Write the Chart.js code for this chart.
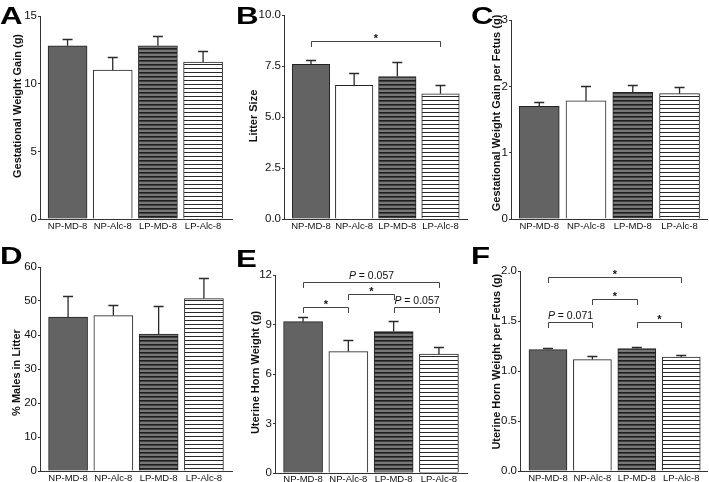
<!DOCTYPE html>
<html>
<head>
<meta charset="utf-8">
<script src="https://cdn.jsdelivr.net/npm/chart.js@4.4.0/dist/chart.umd.min.js"></script>
<style>
  body { margin: 0; background: #fff; }
  #fig { position: relative; width: 709px; height: 482px; background: #fff; }
  #fig canvas { position: absolute; }
</style>
</head>
<body>
<div id="fig">
  <canvas id="pA" style="left:0;top:0" width="236" height="240"></canvas>
  <canvas id="pB" style="left:236px;top:0" width="235" height="240"></canvas>
  <canvas id="pC" style="left:471px;top:0" width="238" height="240"></canvas>
  <canvas id="pD" style="left:0;top:240px" width="236" height="242"></canvas>
  <canvas id="pE" style="left:236px;top:240px" width="235" height="242"></canvas>
  <canvas id="pF" style="left:471px;top:240px" width="238" height="242"></canvas>
</div>
<script>
// groups on the x axis
const groups = ['NP-MD-8', 'NP-Alc-8', 'LP-MD-8', 'LP-Alc-8'];

// A - gestational weight gain
const gainMean = [12.8, 11.0, 12.8, 11.6];
const gainSem = [0.5, 1.0, 0.7, 0.8];
const gainTicks = [0, 5, 10, 15];

// B - litter size
const litterMean = [7.58, 6.55, 6.98, 6.14];
const litterSem = [0.2, 0.62, 0.7, 0.41];
const litterTicks = [0, 2.5, 5, 7.5, 10];
const litterSig = [[0, 3, 8.74, '*']];

// C - weight gain per fetus
const gainFetusMean = [1.70, 1.78, 1.91, 1.89];
const gainFetusSem = [0.07, 0.22, 0.11, 0.10];
const gainFetusTicks = [0, 1, 2, 3];

// D - % males
const malesMean = [45.3, 45.7, 40.3, 50.7];
const malesSem = [6.3, 3.2, 8.3, 6.0];
const malesTicks = [0, 10, 20, 30, 40, 50, 60];

// E - uterine horn weight
const hornMean = [9.17, 7.36, 8.57, 7.2];
const hornSem = [0.27, 0.71, 0.67, 0.46];
const hornTicks = [0, 3, 6, 9, 12];
const hornSig = [[0, 3, 11.59, 'P = 0.057'], [1, 2, 10.83, '*'], [0, 1, 10.04, '*'], [2, 3, 10.04, 'P = 0.057']];

// F - uterine horn weight per fetus
const hornFetusMean = [1.214, 1.114, 1.224, 1.14];
const hornFetusSem = [0.02, 0.04, 0.02, 0.024];
const hornFetusTicks = [0, 0.5, 1, 1.5, 2];
const hornFetusSig = [[0, 3, 1.94, '*'], [1, 2, 1.724, '*'], [0, 1, 1.49, 'P = 0.071'], [2, 3, 1.49, '*']];

const FONT = "'Liberation Sans', Arial, Helvetica, sans-serif";

// striped fills
function stripes(bg, line, period, lw) {
  const c = document.createElement('canvas');
  c.width = 4; c.height = period;
  const g = c.getContext('2d');
  g.fillStyle = bg; g.fillRect(0, 0, 4, period);
  g.fillStyle = line; g.fillRect(0, 0, 4, lw);
  return g.createPattern(c, 'repeat');
}
const fills = ['#636363', '#ffffff', stripes('#777777', '#1e1e1e', 4, 1.6), stripes('#ffffff', '#2a2a2a', 4, 1)];

const panels = [
  { id: 'pA', letter: 'A', title: 'Gestational Weight Gain (g)', mean: gainMean, sem: gainSem, ticks: gainTicks, dec: 0,
    area: { l: 40, t: 16, r: 232, b: 219 }, xr: [-0.61, 3.64], barW: 39, titlePos: [18, 106], letterY: 23.5, xPad: 2 },
  { id: 'pB', letter: 'B', title: 'Litter Size', mean: litterMean, sem: litterSem, ticks: litterTicks, dec: 1, sig: litterSig,
    area: { l: 48, t: 15, r: 231, b: 219 }, xr: [-0.625, 3.614], barW: 37.5, titlePos: [18, 116], letterY: 23.5, xPad: 2 },
  { id: 'pC', letter: 'C', title: 'Gestational Weight Gain per Fetus (g)', mean: gainFetusMean, sem: gainFetusSem, ticks: gainFetusTicks, dec: 0,
    area: { l: 40, t: 20, r: 236, b: 219 }, xr: [-0.604, 3.587], barW: 40, titlePos: [25.5, 113], letterY: 23.5, xPad: 2 },
  { id: 'pD', letter: 'D', title: '% Males in Litter', mean: malesMean, sem: malesSem, ticks: malesTicks, dec: 0,
    area: { l: 40, t: 27, r: 232, b: 231 }, xr: [-0.62, 3.62], barW: 39, titlePos: [17, 132.5], letterY: 23.5, xPad: 2 },
  { id: 'pE', letter: 'E', title: 'Uterine Horn Weight (g)', mean: hornMean, sem: hornSem, ticks: hornTicks, dec: 0, sig: hornSig,
    area: { l: 39, t: 35, r: 231, b: 233 }, xr: [-0.62, 3.62], barW: 39, titlePos: [19.7, 132.5], letterY: 27, xPad: 1 },
  { id: 'pF', letter: 'F', title: 'Uterine Horn Weight per Fetus (g)', mean: hornFetusMean, sem: hornFetusSem, ticks: hornFetusTicks, dec: 1, sig: hornFetusSig,
    area: { l: 49, t: 31, r: 236, b: 231 }, xr: [-0.63, 3.58], barW: 38, titlePos: [26, 121.7], letterY: 23.5, xPad: 2 }
];

// error bars, brackets, axis title and panel letter
const extras = {
  id: 'extras',
  afterDraw(chart) {
    const p = chart.options.plugins.extras.panel;
    const ctx = chart.ctx;
    const xs = chart.scales.x, ys = chart.scales.y;
    ctx.save();

    // error bars (upper only)
    ctx.strokeStyle = '#2a2a2a';
    ctx.lineWidth = 1.3;
    chart.getDatasetMeta(0).data.forEach((bar, i) => {
      const yt = Math.round(ys.getPixelForValue(p.mean[i] + p.sem[i])) + 0.5;
      ctx.beginPath();
      ctx.moveTo(bar.x, bar.y);
      ctx.lineTo(bar.x, yt);
      ctx.moveTo(bar.x - 5, yt);
      ctx.lineTo(bar.x + 5, yt);
      ctx.stroke();
    });

    // significance brackets
    (p.sig || []).forEach(([a, b, level, label]) => {
      const x1 = Math.round(xs.getPixelForValue(a)) + 0.5;
      const x2 = Math.round(xs.getPixelForValue(b)) + 0.5;
      const y = Math.round(ys.getPixelForValue(level)) + 0.5;
      ctx.strokeStyle = '#444';
      ctx.lineWidth = 1;
      ctx.beginPath();
      ctx.moveTo(x1, y + 5.5);
      ctx.lineTo(x1, y);
      ctx.lineTo(x2, y);
      ctx.lineTo(x2, y + 5.5);
      ctx.stroke();
      const cx = (x1 + x2) / 2;
      ctx.fillStyle = '#111';
      ctx.textBaseline = 'alphabetic';
      if (label === '*') {
        ctx.font = 'bold 11px ' + FONT;
        ctx.textAlign = 'center';
        ctx.fillText('*', cx, y + 0.5);
      } else {
        const rest = label.slice(1);
        ctx.font = 'italic 10.5px ' + FONT;
        const w1 = ctx.measureText('P').width;
        ctx.font = '10.5px ' + FONT;
        const w2 = ctx.measureText(rest).width;
        const x0 = cx - (w1 + w2) / 2;
        ctx.textAlign = 'left';
        ctx.font = 'italic 10.5px ' + FONT;
        ctx.fillText('P', x0, y - 4);
        ctx.font = '10.5px ' + FONT;
        ctx.fillText(rest, x0 + w1, y - 4);
      }
    });

    // y axis title
    ctx.save();
    ctx.translate(p.titlePos[0], p.titlePos[1]);
    ctx.rotate(-Math.PI / 2);
    ctx.font = 'bold 11px ' + FONT;
    ctx.fillStyle = '#111';
    ctx.textAlign = 'center';
    ctx.textBaseline = 'middle';
    ctx.fillText(p.title, 0, 0);
    ctx.restore();

    // panel letter
    ctx.save();
    ctx.translate(0, p.letterY);
    ctx.scale(1.3, 1);
    ctx.font = 'bold 24px ' + FONT;
    ctx.fillStyle = '#000';
    ctx.textAlign = 'left';
    ctx.textBaseline = 'alphabetic';
    ctx.fillText(p.letter, 0, 0);
    ctx.restore();

    ctx.restore();
  }
};

panels.forEach(p => {
  const canvas = document.getElementById(p.id);
  const W = canvas.width, H = canvas.height;
  new Chart(canvas, {
    type: 'bar',
    data: {
      datasets: [{
        data: p.mean.map((v, i) => ({ x: i, y: v })),
        backgroundColor: fills,
        borderColor: '#222',
        borderWidth: 1,
        barThickness: p.barW
      }]
    },
    options: {
      responsive: false,
      animation: false,
      layout: { padding: { left: 0, top: p.area.t, right: W - p.area.r, bottom: 0 } },
      plugins: { legend: { display: false }, tooltip: { enabled: false }, extras: { panel: p } },
      scales: {
        x: {
          type: 'linear',
          offset: false,
          min: p.xr[0],
          max: p.xr[1],
          afterBuildTicks: s => { s.ticks = groups.map((g, i) => ({ value: i })); },
          afterFit: s => { s.height = H - p.area.b; },
          ticks: { callback: v => groups[v], autoSkip: false, maxRotation: 0, padding: p.xPad, color: '#111', font: { family: FONT, size: 9.5 } },
          grid: { display: true, offset: false, drawOnChartArea: false, drawTicks: false },
          border: { color: '#333', width: 1 }
        },
        y: {
          min: 0,
          max: p.ticks[p.ticks.length - 1],
          afterBuildTicks: s => { s.ticks = p.ticks.map(v => ({ value: v })); },
          afterFit: s => { s.width = p.area.l; },
          ticks: { callback: v => v.toFixed(p.dec), padding: 1, color: '#111', font: { family: FONT, size: 11.5 } },
          grid: { display: true, drawOnChartArea: false, tickLength: 2, color: '#333' },
          border: { color: '#333', width: 1 }
        }
      }
    },
    plugins: [extras]
  });
});
</script>
</body>
</html>
